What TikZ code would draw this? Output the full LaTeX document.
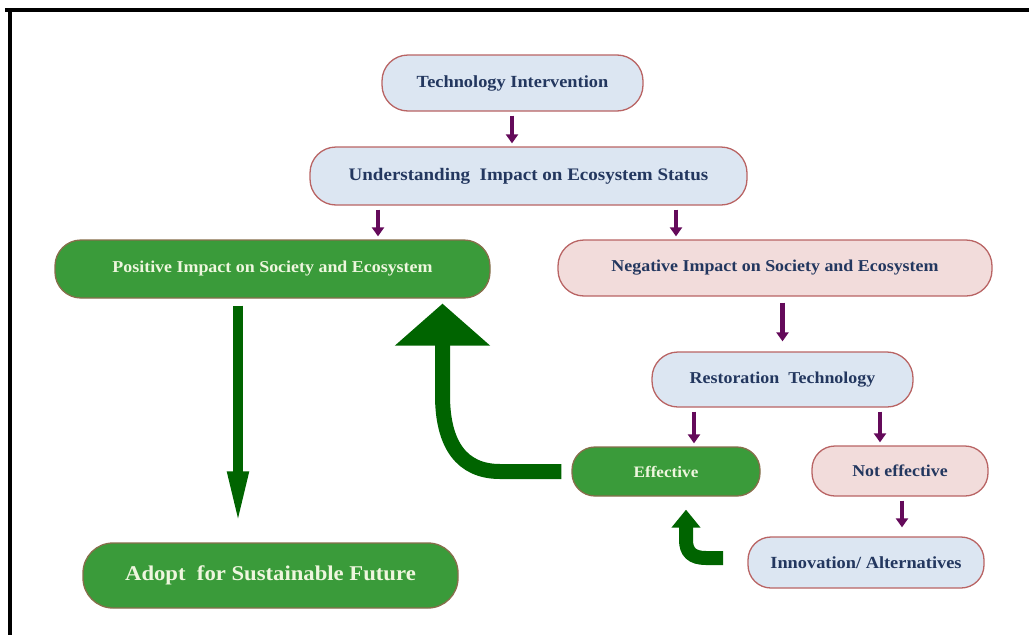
\documentclass[tikz,border=0pt]{standalone}
\usepackage{fontspec}
\setmainfont{Liberation Serif}[FakeStretch=1.08]
\usetikzlibrary{arrows.meta}
\definecolor{bluefill}{RGB}{220,230,242}
\definecolor{pinkfill}{RGB}{242,220,219}
\definecolor{redline}{RGB}{185,100,100}
\definecolor{greenfill}{RGB}{58,155,58}
\definecolor{greenline}{RGB}{135,110,75}
\definecolor{bluetext}{RGB}{35,55,95}
\definecolor{greentext}{RGB}{238,246,222}
\definecolor{darkgreen}{RGB}{0,100,0}
\definecolor{purplearr}{RGB}{100,10,90}
\begin{document}
\begin{tikzpicture}[x=1pt,y=-1pt,
  box/.style={rounded corners=26pt, line width=1.3pt, inner sep=0pt, font=\bfseries},
  bluebox/.style={box, draw=redline, fill=bluefill, text=bluetext},
  pinkbox/.style={box, draw=redline, fill=pinkfill, text=bluetext},
  greenbox/.style={box, draw=greenline, fill=greenfill, text=greentext},
  parr/.style={draw=purplearr, line width=4.5pt, -{Triangle[width=12pt,length=9pt]}, shorten <=4pt, shorten >=3pt},
  bigarr/.style={draw=darkgreen, line width=15pt, -{Triangle[width=93pt,length=42pt]}},
  smallarr/.style={draw=darkgreen, line width=14pt, -{Triangle[width=28pt,length=18pt]}},
  thinarr/.style={draw=darkgreen, line width=10pt, -{Triangle[width=19pt,length=55pt]}}
]
\fill[white] (0,0) rectangle (1029,635);
\useasboundingbox (0,0) rectangle (1029,635);
\draw[line width=4pt] (5,10) -- (1029,10);
\draw[line width=4pt] (9.5,8) -- (9.5,635);

\node[bluebox, minimum width=261pt, minimum height=56pt, font=\bfseries\fontsize{17}{20}\selectfont] (tech) at (512.5,83) {Technology Intervention};
\node[bluebox, minimum width=437pt, minimum height=58pt, font=\bfseries\fontsize{17.6}{20}\selectfont] (und) at (528.5,176) {Understanding\ \ Impact on Ecosystem Status};
\node[greenbox, minimum width=435pt, minimum height=58pt, font=\bfseries\fontsize{16.6}{19}\selectfont] (pos) at (272.5,269) {Positive Impact on Society and Ecosystem};
\node[pinkbox, minimum width=434pt, minimum height=56pt, font=\bfseries\fontsize{16.6}{19}\selectfont] (neg) at (775,268) {Negative Impact on Society and Ecosystem};
\node[bluebox, minimum width=261pt, minimum height=55pt, font=\bfseries\fontsize{16.6}{19}\selectfont] (rest) at (782.5,379.5) {Restoration\ \ Technology};
\node[greenbox, rounded corners=23pt, minimum width=188pt, minimum height=49pt, font=\bfseries\fontsize{15.9}{18}\selectfont] (eff) at (666,471.5) {Effective};
\node[pinkbox, rounded corners=23pt, minimum width=176pt, minimum height=50pt, font=\bfseries\fontsize{16.5}{19}\selectfont] (noteff) at (900,471) {Not effective};
\node[bluebox, rounded corners=23pt, minimum width=236pt, minimum height=51pt, font=\bfseries\fontsize{17}{20}\selectfont] (innov) at (866,562.5) {Innovation/ Alternatives};
\node[greenbox, rounded corners=30pt, minimum width=375pt, minimum height=65pt, font=\bfseries\fontsize{21}{24}\selectfont] (adopt) at (270.5,575.5) {Adopt\ \ for Sustainable Future};

% purple connectors
\coordinate (x0) at (512,0);
\coordinate (x1) at (378,0);
\coordinate (x2) at (676,0);
\coordinate (x3) at (694,0);
\coordinate (x4) at (880,0);
\coordinate (x5) at (902,0);
\draw[parr] (tech.south -| x0) -- (und.north -| x0);
\draw[parr] (und.south -| x1) -- (pos.north -| x1);
\draw[parr] (und.south -| x2) -- (neg.north -| x2);
\draw[parr, shorten <=6pt, shorten >=10pt] (neg.south -| rest.north) -- (rest.north);
\draw[parr] (rest.south -| x3) -- (eff.north -| x3);
\draw[parr] (rest.south -| x4) -- (noteff.north -| x4);
\draw[parr, shorten >=9pt] (noteff.south -| x5) -- (innov.north -| x5);

% green connectors
\coordinate (d) at (238,0);
\draw[thinarr, shorten <=7pt, shorten >=16pt] (pos.south -| d) -- (adopt.north -| d);

\coordinate (b1) at (500,471.5);
\coordinate (b2) at (462,471.5);
\coordinate (b3) at (442.5,445);
\coordinate (b4) at (442.5,395);
\draw[bigarr, shorten >=5pt] ([xshift=-10pt]eff.west) -- (b1) .. controls (b2) and (b3) .. (b4) -- (pos.south -| b4);

\coordinate (s0) at (723,558);
\coordinate (s1) at (706,558);
\coordinate (s2) at (692,558);
\coordinate (s3) at (686,552);
\coordinate (s4) at (686,540);
\draw[smallarr, shorten >=13pt] (s0) -- (s1) .. controls (s2) and (s3) .. (s4) -- (eff.south -| s4);
\end{tikzpicture}
\end{document}
